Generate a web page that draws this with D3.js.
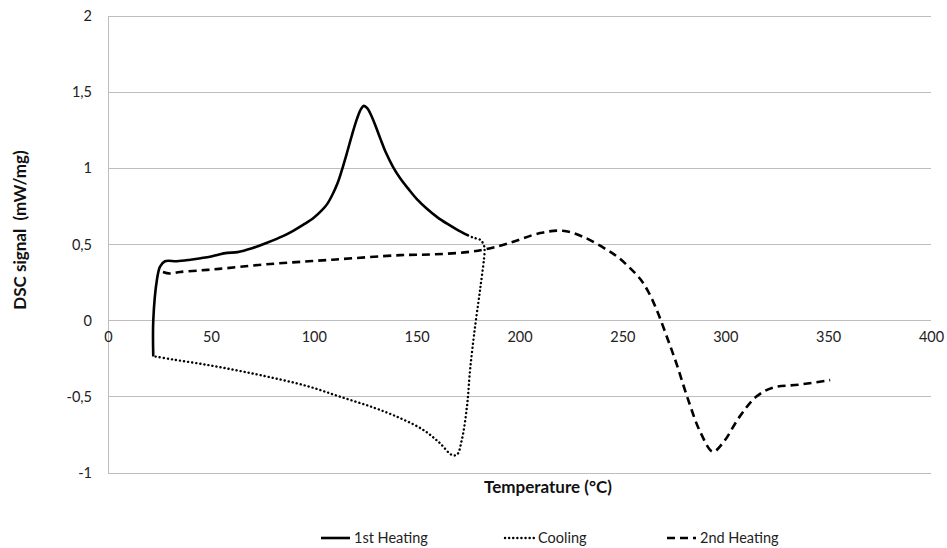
<!DOCTYPE html>
<html><head><meta charset="utf-8">
<script src="https://cdn.jsdelivr.net/npm/d3@7"></script>
<style>body{margin:0;background:#fff}svg{display:block}</style>
</head><body>
<svg id="c" width="947" height="548"></svg>
<script>
const xTicks = [0,50,100,150,200,250,300,350,400];
const yTicks = [-1,-0.5,0,0.5,1,1.5,2];
const seriesNames = ["1st Heating","Cooling","2nd Heating"];
const heating1T = [22,22,23.8,25.3,27.7,33.5,40,45,49.6,54,58,63,70,77,85,90,95,100,104,106.5,109,111.5,113.6,116,118.5,121,123,124.3,126,128,130,132.5,135,138.5,142,146,150,155,160,165,170,175];
const heating1V = [-0.235,0,0.27,0.355,0.39,0.39,0.40,0.41,0.42,0.435,0.445,0.45,0.475,0.51,0.555,0.59,0.63,0.675,0.725,0.765,0.825,0.9,0.985,1.095,1.215,1.325,1.39,1.41,1.395,1.345,1.28,1.19,1.105,1.01,0.935,0.865,0.80,0.735,0.68,0.635,0.595,0.56];
const coolingT = [175,177.5,181,182.8,183,181,178.4,176,174.5,172,169.6,167,161,153,142,129,113,97,80,64,48,31.6,22.8];
const coolingV = [0.56,0.545,0.53,0.49,0.45,0.22,-0.04,-0.32,-0.56,-0.78,-0.88,-0.88,-0.80,-0.715,-0.64,-0.57,-0.50,-0.43,-0.375,-0.33,-0.29,-0.255,-0.235];
const heating2T = [26.7,30,35,45,54,77,109,142,158,174.5,184,194,210,221,231,242.5,248,253,258.6,263,267.3,272,276.5,282,288,294,299,307,315,323,336,351];
const heating2V = [0.32,0.31,0.32,0.33,0.34,0.37,0.40,0.43,0.435,0.45,0.47,0.505,0.575,0.59,0.55,0.465,0.415,0.355,0.275,0.18,0.05,-0.12,-0.29,-0.52,-0.735,-0.86,-0.80,-0.63,-0.50,-0.44,-0.42,-0.39];

const svg = d3.select("#c");
const x = d3.scaleLinear().domain([0,400]).range([108,931]);
const y = d3.scaleLinear().domain([-1,2]).range([473,16]);
const font = "Lato, 'Open Sans', sans-serif";

svg.append("g").selectAll("line").data(yTicks).join("line")
  .attr("x1",x(0)).attr("x2",x(400)).attr("y1",d=>y(d)).attr("y2",d=>y(d))
  .attr("stroke","#bdbdbd").attr("stroke-width",1).attr("shape-rendering","crispEdges");
const yAxis = svg.append("g").attr("transform",`translate(${x(0)},0)`)
  .call(d3.axisLeft(y).tickValues(yTicks).tickSize(0).tickPadding(16)
    .tickFormat(d=>String(d).replace(".",",")));
yAxis.select(".domain").attr("stroke","#bdbdbd").attr("shape-rendering","crispEdges");
yAxis.selectAll("text").attr("font-family",font).attr("font-size",14.5).attr("fill","#222");
const xAxis = svg.append("g").attr("transform",`translate(0,${y(0)})`)
  .call(d3.axisBottom(x).tickValues(xTicks).tickSize(0).tickPadding(11).tickFormat(d3.format("d")));
xAxis.select(".domain").remove();
xAxis.selectAll("text").attr("font-family",font).attr("font-size",14.5).attr("fill","#222");

svg.append("text").attr("x",548).attr("y",493).attr("text-anchor","middle")
  .attr("font-family",font).attr("font-weight","bold").attr("font-size",17).attr("fill","#111")
  .text("Temperature (°C)");
svg.append("text").attr("transform","translate(26,230) rotate(-90)").attr("text-anchor","middle")
  .attr("font-family",font).attr("font-weight","bold").attr("font-size",17).attr("fill","#111")
  .attr("xml:space","preserve").style("white-space","pre")
  .text("DSC signal  (mW/mg)");

const line = d3.line().x(d=>x(d[0])).y(d=>y(d[1])).curve(d3.curveCatmullRom.alpha(0.5));
const styles = [
  {dash:null, w:2.6, cap:"butt"},
  {dash:"0.1,4", w:2.4, cap:"round"},
  {dash:"8,5", w:2.6, cap:"butt"}
];
const data = [
  d3.zip(heating1T,heating1V),
  d3.zip(coolingT,coolingV),
  d3.zip(heating2T,heating2V)
];
data.forEach((d,i)=>{
  svg.append("path").attr("d",line(d)).attr("fill","none").attr("stroke","#000")
    .attr("stroke-width",styles[i].w).attr("stroke-dasharray",styles[i].dash)
    .attr("stroke-linecap",styles[i].cap).attr("stroke-linejoin","round");
});

const legX = [321,505,667];
seriesNames.forEach((n,i)=>{
  svg.append("line").attr("x1",legX[i]).attr("x2",legX[i]+29).attr("y1",538).attr("y2",538)
    .attr("stroke","#000").attr("stroke-width",styles[i].w)
    .attr("stroke-dasharray",styles[i].dash).attr("stroke-linecap",styles[i].cap);
  svg.append("text").attr("x",legX[i]+33).attr("y",543).attr("font-family",font)
    .attr("font-size",14.5).attr("fill","#222").text(n);
});
</script>
</body></html>
